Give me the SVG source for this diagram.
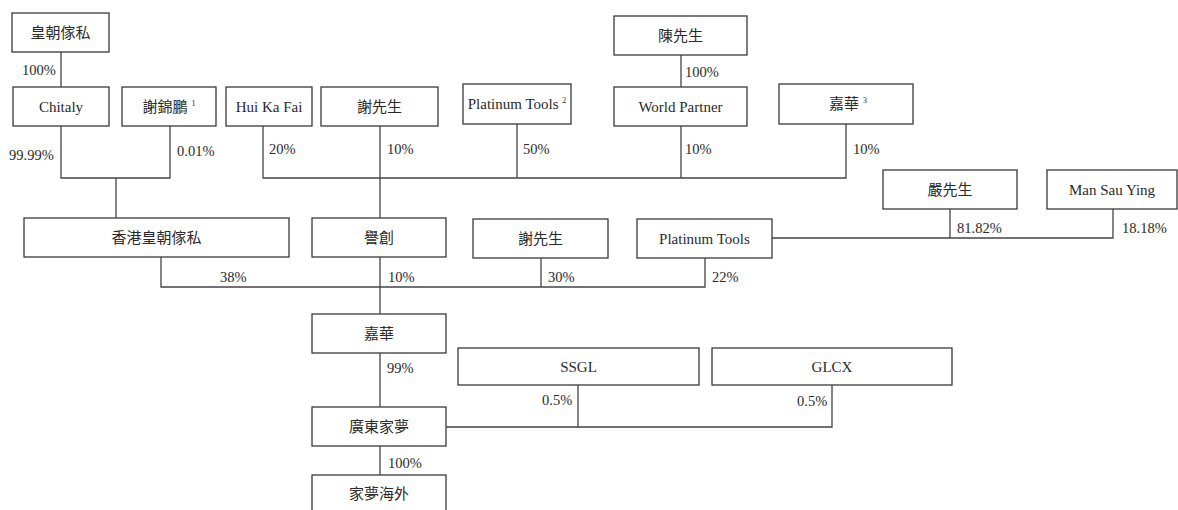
<svg xmlns="http://www.w3.org/2000/svg" width="1178" height="510" viewBox="0 0 1178 510">
<style>
.box{fill:#fff;stroke:#3a3a3a;stroke-width:1.3}
.t{font-family:"Liberation Serif","Noto Sans CJK TC",serif;font-size:15px;fill:#2a2a2a;text-anchor:middle}
.p{font-family:"Liberation Serif","Noto Sans CJK TC",serif;font-size:14.5px;fill:#2a2a2a}
.sup{font-size:8px}
.c{fill:none;stroke:#444;stroke-width:1.3}
</style>
<rect width="1178" height="510" fill="#fff"/>
<g id="connectors">
<path class="c" d="M61 52V87"/>
<path class="c" d="M61 126V178H170V126"/>
<path class="c" d="M116 178V218"/>
<path class="c" d="M263 126V178H846V124"/>
<path class="c" d="M380 126V218"/>
<path class="c" d="M517 124V178"/>
<path class="c" d="M681 55V87"/>
<path class="c" d="M681 126V178"/>
<path class="c" d="M161 257V287H705V258"/>
<path class="c" d="M541 258V287"/>
<path class="c" d="M380 257V314"/>
<path class="c" d="M772 238H1113V209"/>
<path class="c" d="M950 209V238"/>
<path class="c" d="M380 353V407"/>
<path class="c" d="M446 427H832V385"/>
<path class="c" d="M578 385V427"/>
<path class="c" d="M380 446V475"/>
</g>
<g id="labels">
<text class="p" x="22" y="75">100%</text>
<text class="p" x="9" y="160">99.99%</text>
<text class="p" x="177" y="156">0.01%</text>
<text class="p" x="269" y="154">20%</text>
<text class="p" x="387" y="154">10%</text>
<text class="p" x="523" y="154">50%</text>
<text class="p" x="685" y="154">10%</text>
<text class="p" x="853" y="154">10%</text>
<text class="p" x="685" y="77">100%</text>
<text class="p" x="220" y="282">38%</text>
<text class="p" x="388" y="282">10%</text>
<text class="p" x="548" y="282">30%</text>
<text class="p" x="712" y="282">22%</text>
<text class="p" x="957" y="233">81.82%</text>
<text class="p" x="1122" y="233">18.18%</text>
<text class="p" x="387" y="373">99%</text>
<text class="p" x="542" y="405">0.5%</text>
<text class="p" x="797" y="406">0.5%</text>
<text class="p" x="388" y="468">100%</text>
</g>
<g id="n-huangchao"><rect class="box" x="12" y="13" width="97" height="39"/><text class="t" x="60.5" y="38">皇朝傢私</text></g>
<g id="n-chitaly"><rect class="box" x="13" y="87" width="96" height="39"/><text class="t" x="61" y="112">Chitaly</text></g>
<g id="n-xiejinpeng"><rect class="box" x="122" y="87" width="94" height="39"/><text class="t" x="169" y="112">謝錦鵬 <tspan class="sup" dy="-6">1</tspan></text></g>
<g id="n-huikafai"><rect class="box" x="226" y="87" width="86" height="39"/><text class="t" x="269" y="112">Hui Ka Fai</text></g>
<g id="n-xie1"><rect class="box" x="321" y="87" width="117" height="39"/><text class="t" x="379.5" y="112">謝先生</text></g>
<g id="n-pt2"><rect class="box" x="463" y="84" width="108" height="40"/><text class="t" x="517" y="109">Platinum Tools <tspan class="sup" dy="-6">2</tspan></text></g>
<g id="n-chen"><rect class="box" x="614" y="16" width="133" height="39"/><text class="t" x="680.5" y="41">陳先生</text></g>
<g id="n-wp"><rect class="box" x="614" y="87" width="133" height="39"/><text class="t" x="680.5" y="112">World Partner</text></g>
<g id="n-jiahua3"><rect class="box" x="779" y="84" width="134" height="40"/><text class="t" x="848" y="109">嘉華 <tspan class="sup" dy="-6">3</tspan></text></g>
<g id="n-yan"><rect class="box" x="883" y="170" width="134" height="39"/><text class="t" x="950" y="195">嚴先生</text></g>
<g id="n-man"><rect class="box" x="1047" y="170" width="130" height="39"/><text class="t" x="1112" y="195">Man Sau Ying</text></g>
<g id="n-hk"><rect class="box" x="24" y="218" width="265" height="39"/><text class="t" x="156.5" y="243">香港皇朝傢私</text></g>
<g id="n-yuchuang"><rect class="box" x="312" y="218" width="134" height="39"/><text class="t" x="379" y="243">譽創</text></g>
<g id="n-xie2"><rect class="box" x="473" y="219" width="135" height="39"/><text class="t" x="540.5" y="244">謝先生</text></g>
<g id="n-pt"><rect class="box" x="637" y="219" width="135" height="39"/><text class="t" x="704.5" y="244">Platinum Tools</text></g>
<g id="n-jiahua"><rect class="box" x="312" y="314" width="134" height="39"/><text class="t" x="379" y="339">嘉華</text></g>
<g id="n-ssgl"><rect class="box" x="458" y="348" width="241" height="37"/><text class="t" x="578.5" y="372">SSGL</text></g>
<g id="n-glcx"><rect class="box" x="712" y="348" width="240" height="37"/><text class="t" x="832" y="372">GLCX</text></g>
<g id="n-guangdong"><rect class="box" x="312" y="407" width="134" height="39"/><text class="t" x="379" y="432">廣東家夢</text></g>
<g id="n-overseas"><rect class="box" x="312" y="475" width="134" height="45"/><text class="t" x="379" y="499">家夢海外</text></g>
</svg>
